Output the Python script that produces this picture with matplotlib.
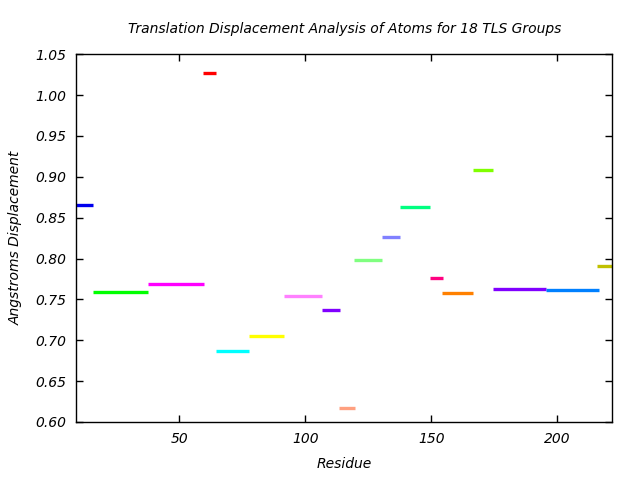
import numpy as np
import matplotlib
matplotlib.use('Agg')
import matplotlib.pyplot as plt

# residue ranges of each TLS group and its displacement
seg_start = [9, 15.7, 37.6, 59.5, 64.6, 77.7, 91.5, 106.6, 113.4, 119.3,
             130.4, 137.6, 149.5, 154.2, 166.5, 174.5, 195.5, 216.0]
seg_end = [15.7, 37.6, 59.8, 64.5, 77.7, 91.5, 106.6, 113.8, 119.7, 130.4,
           137.6, 149.5, 154.6, 166.5, 174.5, 195.5, 216.5, 222.0]
displacement = [0.866, 0.759, 0.7685, 1.0267, 0.6865, 0.7056, 0.7538, 0.7367, 0.6167,
                0.798, 0.826, 0.8627, 0.7758, 0.7575, 0.908, 0.7624, 0.7611, 0.7905]
colors = ['#0000ee', '#00ff00', '#ff00ff', '#ff0000', '#00ffff', '#ffff00',
          '#ff80ff', '#8000ff', '#ffa080', '#80ff80', '#8080ff', '#00ff80',
          '#ff0080', '#ff8000', '#80ff00', '#8000ff', '#0080ff', '#c0c000']

xticks = [50, 100, 150, 200]
yticks = np.arange(0.60, 1.0501, 0.05)

fig = plt.figure(figsize=(6.4, 4.8), dpi=100)
ax = fig.add_axes([0.119, 0.121, 0.838, 0.766])

ax.hlines(displacement, seg_start, seg_end, colors=colors, linewidth=2.4)

ax.set_xlim(9, 222)
ax.set_ylim(0.60, 1.05)
ax.set_xticks(xticks)
ax.set_yticks(yticks)
ax.set_yticklabels(['%.2f' % v for v in yticks])
ax.tick_params(direction='in', top=True, right=True, length=5, width=1, labelsize=10, pad=7)
for lab in ax.get_xticklabels() + ax.get_yticklabels():
    lab.set_fontstyle('italic')
for sp in ax.spines.values():
    sp.set_linewidth(1)

ax.set_title('Translation Displacement Analysis of Atoms for 18 TLS Groups',
             fontsize=10, style='italic', pad=15)
ax.set_xlabel('Residue', fontsize=10, style='italic', labelpad=8)
ax.set_ylabel('Angstroms Displacement', fontsize=10, style='italic', labelpad=9)

fig.savefig('out.png', dpi=100)
